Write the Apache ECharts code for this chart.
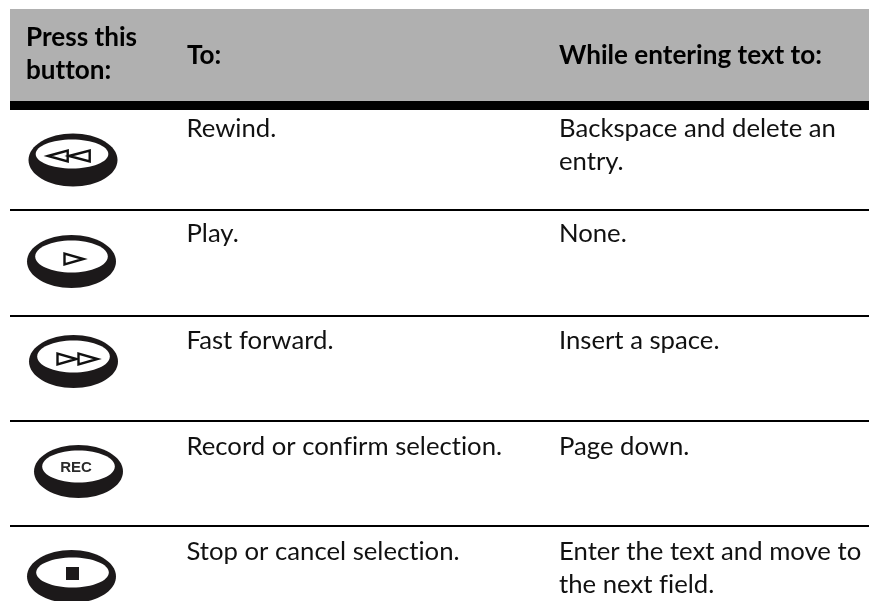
<!DOCTYPE html>
<html><head><meta charset="utf-8">
<style>html,body{margin:0;padding:0;background:#fff;overflow:hidden}#c{width:869px;height:601px}</style>
<script src="https://cdn.jsdelivr.net/npm/echarts@6/dist/echarts.min.js"></script>
</head><body><div id="c"></div>
<script>
const headers = ["Press this\nbutton:", "To:", "While entering text to:"];
const buttons = ["rewind", "play", "forward", "rec", "stop"];
const actions = ["Rewind.", "Play.", "Fast forward.", "Record or confirm selection.", "Stop or cancel selection."];
const textEntry = ["Backspace and delete an\nentry.", "None.", "Insert a space.", "Page down.", "Enter the text and move to\nthe next field."];

const FONT = 'Lato';
const TEXT = '#111';
const colX = [26, 186.5, 559];
const rowTextY = [112.5, 217.5, 324.5, 430.5, 535.5];
const ruleY = [210, 316, 421, 526];
const btnPos = [[73,160,-1,-4,-6,14.5],[71.5,261.5,0,-2.5,-5,16],[73.5,361.5,0,-2.5,-5,16],[78.5,471.5,0,-2.5,-5,16],[71.5,576.5,1,-2.5,-4,15]];

// The reference font has no fi/ti ligatures: turn them off on the canvas.
const origGetContext = HTMLCanvasElement.prototype.getContext;
HTMLCanvasElement.prototype.getContext = function(type, opts){
  const ctx = origGetContext.call(this, type, opts);
  if (ctx && type === '2d' && 'textRendering' in ctx) ctx.textRendering = 'optimizeSpeed';
  return ctx;
};

function txt(x,y,s,opt){
  return {type:'text',x,y,style:Object.assign({text:s,fill:TEXT,font:`25.7px ${FONT}`,lineHeight:33,verticalAlign:'top'},opt||{})};
}
function tri(pts){return {type:'polygon',shape:{points:pts},style:{fill:'#fff',stroke:'#111',lineWidth:2.4}};}
function button(kind,cx,cy,dx,dy,iy,iry){
  const out=[
    {type:'ellipse',shape:{cx,cy,rx:44.5,ry:26.5},style:{fill:'#1c191a'}},
    {type:'ellipse',shape:{cx:cx+dx,cy:cy+iy,rx:36.3,ry:iry},style:{fill:'#fff'}}
  ];
  const my=cy+dy, h=5.5;
  if(kind==='rewind'){
    out.push(tri([[cx-25,my],[cx-5.3,my-h],[cx-5.3,my+h]]),tri([[cx-4,my],[cx+16.7,my-h],[cx+16.7,my+h]]));
  } else if(kind==='play'){
    out.push(tri([[cx-7,my-h],[cx-7,my+h],[cx+12,my]]));
  } else if(kind==='forward'){
    out.push(tri([[cx-16,my-h],[cx-16,my+h],[cx+3,my]]),tri([[cx+5,my-h],[cx+5,my+h],[cx+24,my]]));
  } else if(kind==='rec'){
    out.push({type:'text',x:cx-2.5,y:cy-4,style:{text:'REC',font:'bold 15px "Liberation Sans"',fill:'#2a2a2a',align:'center',verticalAlign:'middle'}});
  } else {
    out.push({type:'rect',shape:{x:cx-5.5,y:cy-9.5,width:13,height:13},style:{fill:'#1c191a'}});
  }
  return out;
}
const els=[
  {type:'rect',shape:{x:10,y:9,width:859,height:92},style:{fill:'#b0b0b0'}},
  {type:'rect',shape:{x:10,y:101,width:859,height:9},style:{fill:'#000'}}
];
ruleY.forEach(y=>els.push({type:'rect',shape:{x:10,y:y-1,width:859,height:2},style:{fill:'#000'}}));
const hdr={font:`bold 26.1px ${FONT}`,fill:'#000',lineHeight:32.5};
els.push(txt(colX[0],21.5,headers[0],hdr),txt(colX[1]+.5,39.3,headers[1],hdr),txt(colX[2],39.3,headers[2],hdr));
actions.forEach((s,i)=>els.push(txt(colX[1],rowTextY[i],s)));
textEntry.forEach((s,i)=>els.push(txt(colX[2],rowTextY[i],s)));
buttons.forEach((k,i)=>els.push(...button(k,...btnPos[i])));
const chart=echarts.init(document.getElementById('c'),null,{renderer:'canvas'});
chart.setOption({animation:false,backgroundColor:'#fff',graphic:{elements:els}});
</script></body></html>
